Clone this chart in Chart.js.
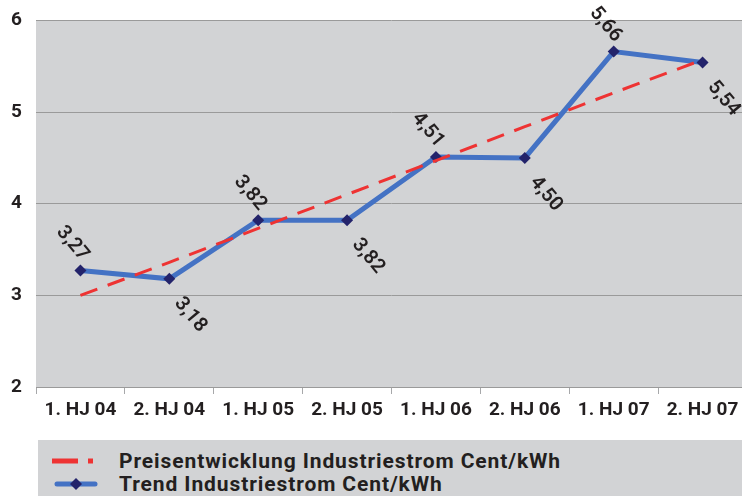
<!DOCTYPE html>
<html lang="de">
<head>
    <meta charset="UTF-8">
    <title>Industriestrom Cent/kWh</title>
    <script src="https://cdn.jsdelivr.net/npm/chart.js"></script>
    <style>
        body { margin: 0; background: #fff; font-family: Roboto, "DejaVu Sans", sans-serif; overflow: hidden; }
        #wrap { position: relative; width: 742px; height: 430px; overflow: hidden; }
        #myChart { display: block; margin-top: -5px; }
        #legend { position: absolute; left: 38px; top: 440px; width: 704px; height: 56px; background: #d2d3d5; }
        .item { position: absolute; left: 0; height: 22px; display: flex; align-items: center; }
        .item svg { margin-left: 14px; margin-right: 21px; }
        .item span { font-weight: 700; font-size: 21px; letter-spacing: 0.9px; color: #231f20; }
    </style>
</head>
<body>
    <div id="wrap"><canvas id="myChart" width="753" height="435"></canvas></div>
    <div id="legend">
        <div class="item" style="top:10px">
            <svg width="46" height="10"><line x1="0" y1="5" x2="26" y2="5" stroke="#ee3333" stroke-width="5"/><line x1="36" y1="5" x2="41" y2="5" stroke="#ee3333" stroke-width="5"/></svg>
            <span>Preisentwicklung Industriestrom Cent/kWh</span>
        </div>
        <div class="item" style="top:33px">
            <svg width="46" height="14"><line x1="5" y1="7" x2="43" y2="7" stroke="#4472c4" stroke-width="5" stroke-linecap="round"/><polygon points="24,1 30,7 24,13 18,7" fill="#23236b"/></svg>
            <span>Trend Industriestrom Cent/kWh</span>
        </div>
    </div>
    <script>
        // Kategorien und Werte
        const halbjahre = ['1. HJ 04', '2. HJ 04', '1. HJ 05', '2. HJ 05', '1. HJ 06', '2. HJ 06', '1. HJ 07', '2. HJ 07'];
        const preise = [3.27, 3.18, 3.82, 3.82, 4.51, 4.50, 5.66, 5.54];
        const preisLabels = ['3,27', '3,18', '3,82', '3,82', '4,51', '4,50', '5,66', '5,54'];
        const trendLinie = [3.00, 3.36, 3.73, 4.10, 4.47, 4.84, 5.21, 5.57];
        const yTicks = [2, 3, 4, 5, 6];

        // Hintergrund der Zeichenfläche
        const plotBackground = {
            id: 'plotBackground',
            beforeDraw(chart) {
                const { ctx, chartArea: a } = chart;
                ctx.save();
                ctx.fillStyle = '#d2d3d5';
                ctx.fillRect(a.left, a.top, a.right - a.left, a.bottom - a.top);
                ctx.restore();
            }
        };

        // Gedrehte Wertbeschriftungen
        const valueLabels = {
            id: 'valueLabels',
            afterDatasetsDraw(chart) {
                const { ctx } = chart;
                const meta = chart.getDatasetMeta(1);
                ctx.save();
                ctx.font = '600 20px Roboto, sans-serif';
                ctx.fillStyle = '#231f20';
                ctx.textAlign = 'center';
                ctx.textBaseline = 'middle';
                meta.data.forEach((pt, i) => {
                    const above = i % 2 === 0;
                    const dx = above ? -8 : 21;
                    const dy = above ? -27 : 36;
                    ctx.save();
                    ctx.translate(pt.x + dx, pt.y + dy);
                    ctx.rotate(50 * Math.PI / 180);
                    ctx.fillText(preisLabels[i], 0, 0);
                    ctx.restore();
                });
                ctx.restore();
            }
        };

        const ctx = document.getElementById('myChart').getContext('2d');
        new Chart(ctx, {
            type: 'line',
            data: {
                labels: halbjahre,
                datasets: [{
                    label: 'Preisentwicklung Industriestrom Cent/kWh',
                    data: trendLinie,
                    borderColor: '#ee3333',
                    borderWidth: 3,
                    borderDash: [18, 11],
                    pointRadius: 0,
                    tension: 0,
                    order: 0
                }, {
                    label: 'Trend Industriestrom Cent/kWh',
                    data: preise,
                    borderColor: '#4472c4',
                    borderWidth: 5,
                    pointStyle: 'rectRot',
                    pointRadius: 6,
                    pointBackgroundColor: '#23236b',
                    pointBorderColor: '#23236b',
                    pointBorderWidth: 0,
                    tension: 0,
                    order: 1
                }]
            },
            options: {
                responsive: false,
                animation: false,
                devicePixelRatio: 1,
                layout: { padding: { top: 17, right: 0, left: 0, bottom: 0 } },
                plugins: {
                    legend: { display: false },
                    tooltip: { enabled: false }
                },
                scales: {
                    x: {
                        offset: true,
                        grid: { offset: true, drawOnChartArea: false, color: '#a7a8aa', tickLength: 7 },
                        border: { display: false },
                        ticks: { color: '#231f20', font: { family: 'Roboto', size: 19, weight: '700' }, padding: 5, maxRotation: 0, autoSkip: false },
                        afterFit(scale) { scale.height = 43; }
                    },
                    y: {
                        min: 2,
                        max: 6,
                        afterBuildTicks(scale) { scale.ticks = yTicks.map(v => ({ value: v })); },
                        grid: { color: '#9a9a9a', lineWidth: 1, drawTicks: false },
                        border: { display: false },
                        ticks: { color: '#231f20', font: { family: 'Roboto', size: 19, weight: '700' }, padding: 14 },
                        afterFit(scale) { scale.width = 36; }
                    }
                }
            },
            plugins: [plotBackground, valueLabels]
        });
    </script>
</body>
</html>
